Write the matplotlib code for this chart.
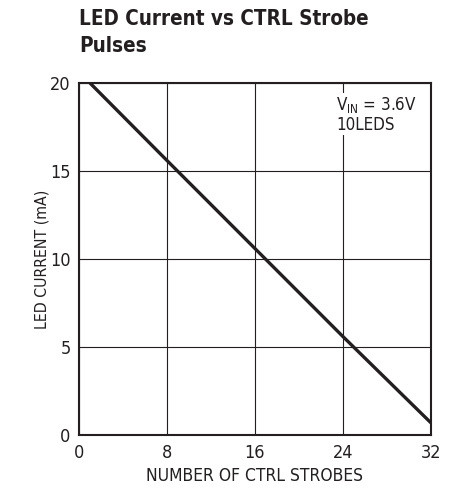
import matplotlib.pyplot as plt

plt.rcParams['font.family'] = ['DejaVu Sans']
plt.rcParams['font.stretch'] = 'condensed'

# strobe count vs LED current (mA)
strobes = [1, 8, 16, 24, 32]
current_ma = [20, 15.6, 10.6, 5.6, 0.7]
x_ticks = [0, 8, 16, 24, 32]
y_ticks = [0, 5, 10, 15, 20]
ink = '#231f20'

fig = plt.figure(figsize=(4.59, 4.94), dpi=100)
ax = fig.add_axes([0.172, 0.119, 0.767, 0.713])

ax.plot(strobes, current_ma, color=ink, linewidth=2.4, solid_capstyle='butt')
ax.set_xlim(0, 32)
ax.set_ylim(0, 20)
ax.set_xticks(x_ticks)
ax.set_yticks(y_ticks)
ax.grid(True, color=ink, linewidth=0.8)
ax.tick_params(length=0, labelsize=13, pad=6, labelcolor=ink)
for s in ax.spines.values():
    s.set_linewidth(1.5)
    s.set_color(ink)

ax.set_xlabel("NUMBER OF CTRL STROBES", fontsize=12.5, labelpad=4, color=ink)
ax.set_ylabel("LED CURRENT (mA)", fontsize=11.3, labelpad=0, color=ink)

ax.text(23.4, 19.3, "V$_{\\mathregular{IN}}$ = 3.6V\n10LEDS", fontsize=12.2,
        va='top', ha='left', linespacing=1.05, color=ink,
        bbox=dict(facecolor='white', edgecolor='none', pad=1))

fig.text(0.172, 0.982, "LED Current vs CTRL Strobe\nPulses", fontsize=14.8,
         fontweight='bold', ha='left', va='top', linespacing=1.45, color=ink)

fig.savefig("out.png", dpi=100)
